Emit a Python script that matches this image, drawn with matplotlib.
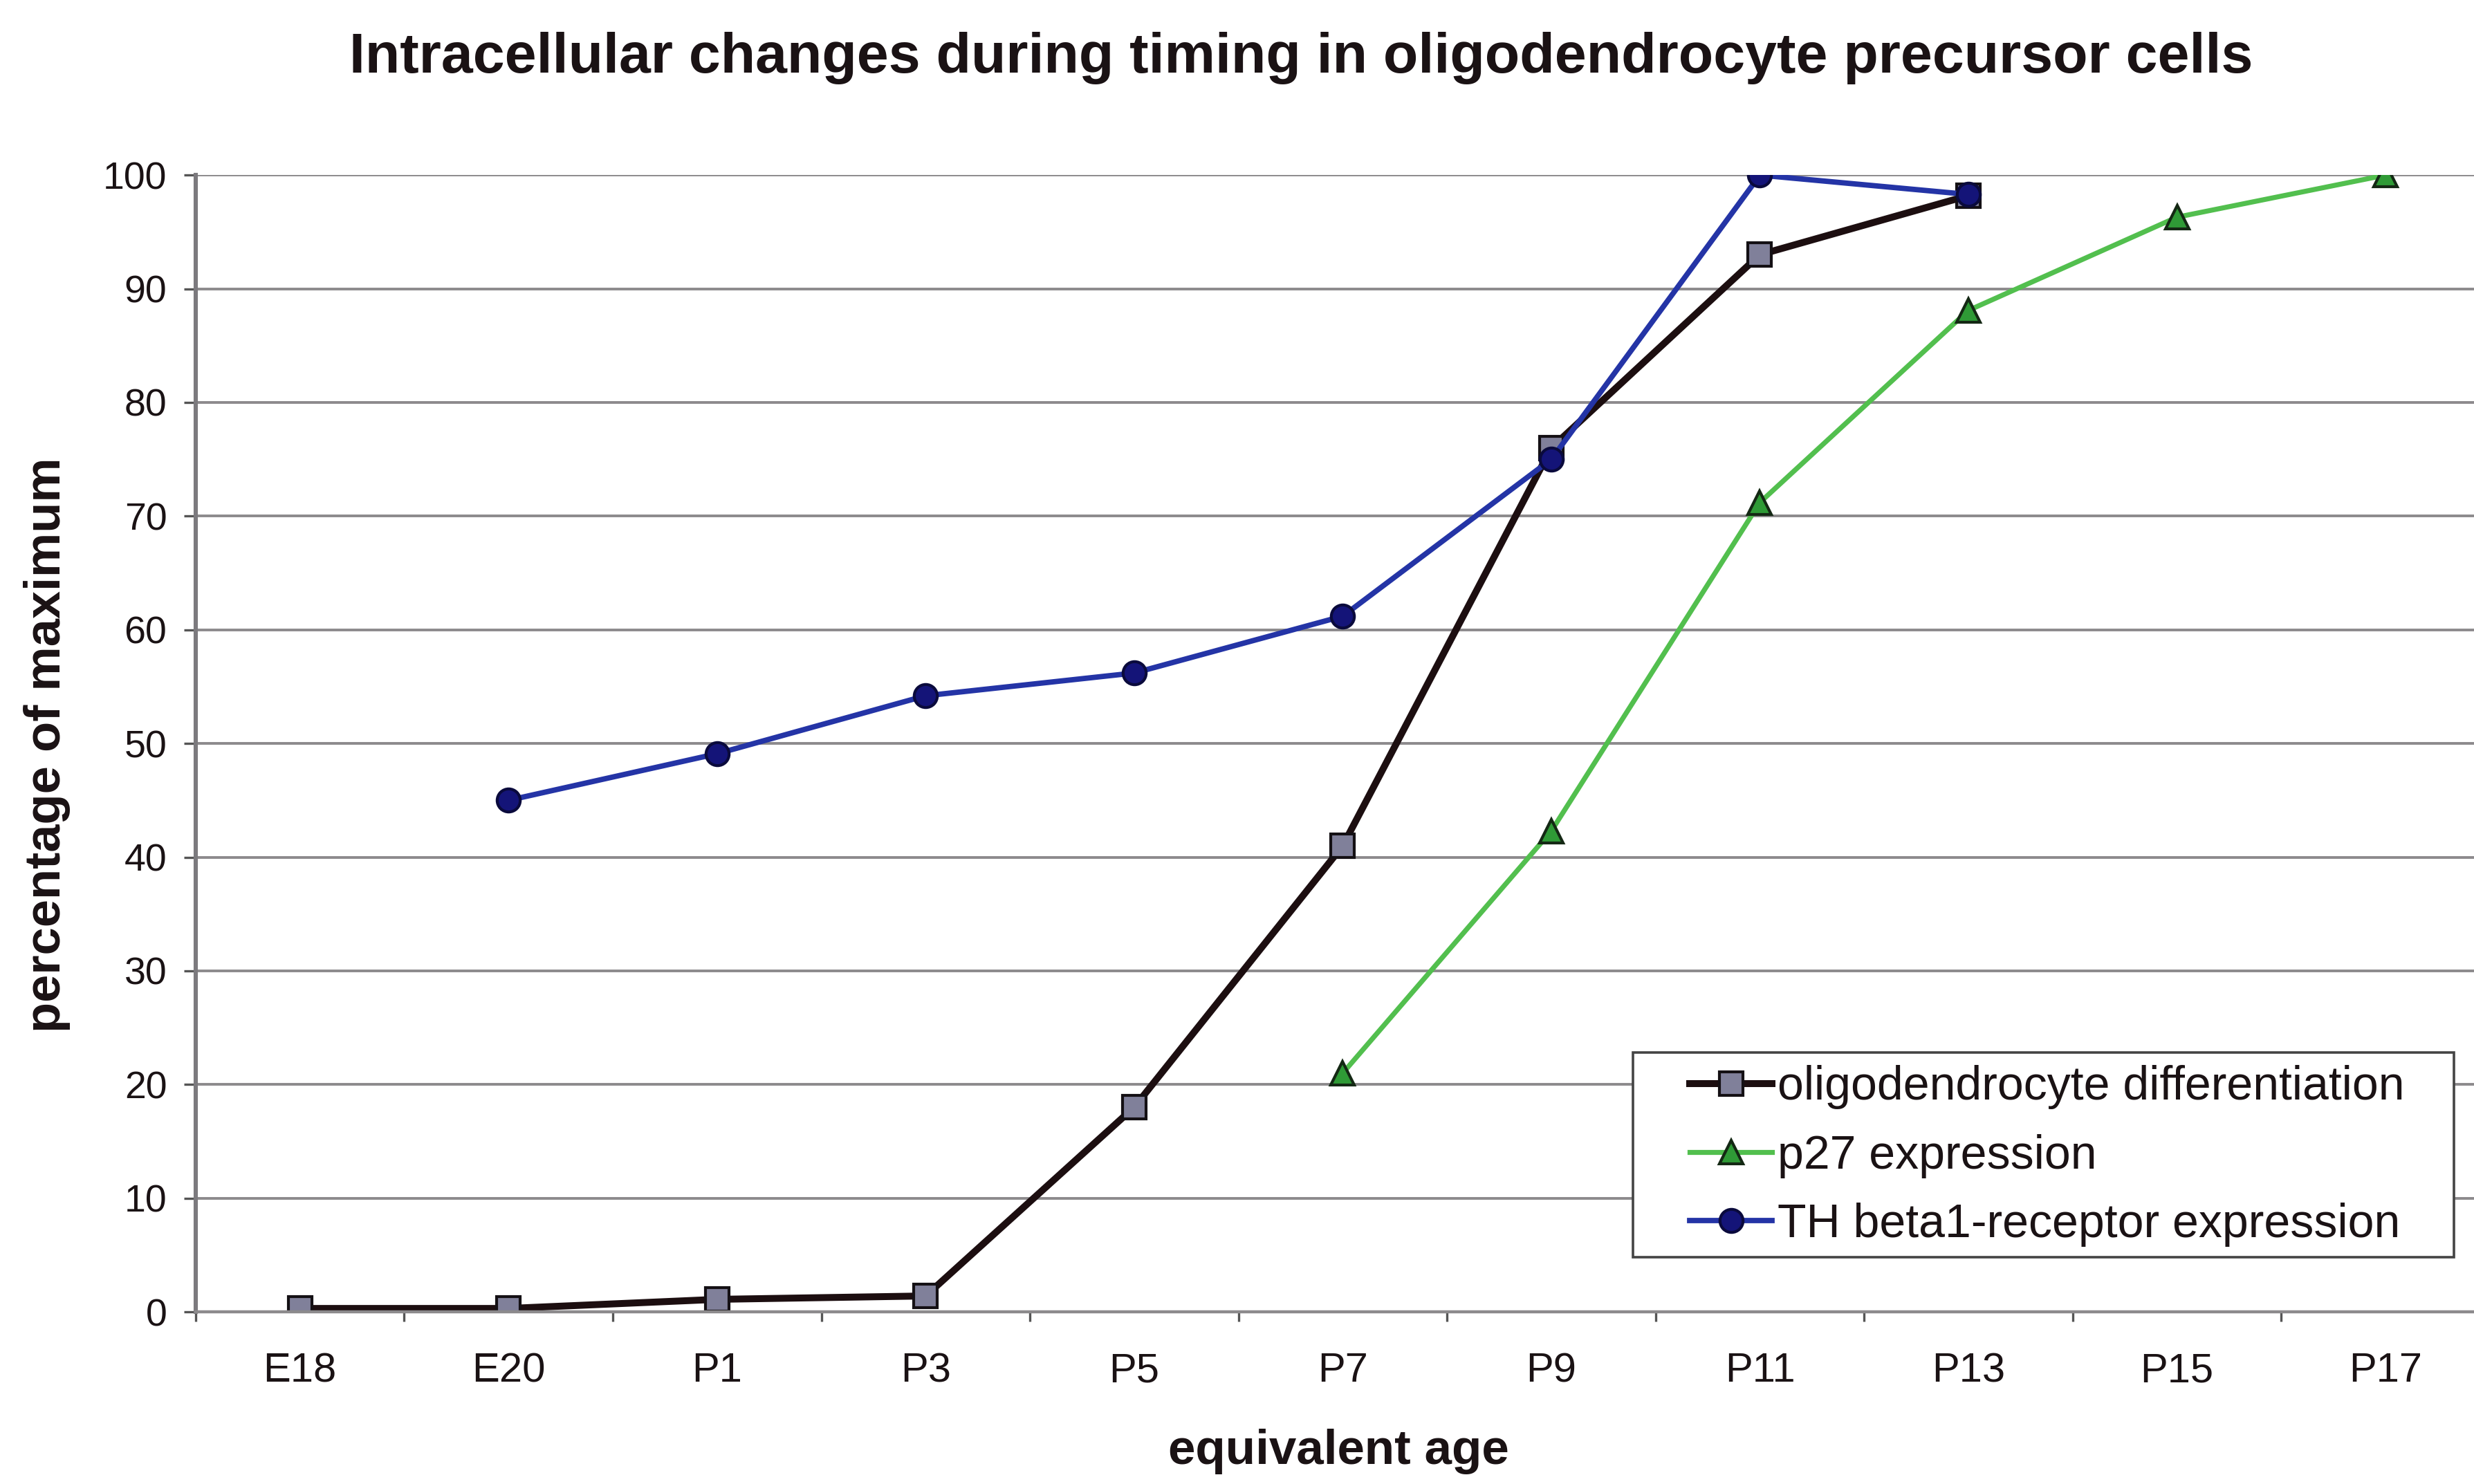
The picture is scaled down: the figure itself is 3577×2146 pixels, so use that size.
import numpy as np
import matplotlib
matplotlib.use("Agg")
import matplotlib.pyplot as plt
from matplotlib.patches import Rectangle

plt.rcParams['font.family'] = ['Liberation Sans', 'DejaVu Sans']

# data
ages = ['E18', 'E20', 'P1', 'P3', 'P5', 'P7', 'P9', 'P11', 'P13', 'P15', 'P17']
oligo_diff = [0.3, 0.3, 1.1, 1.4, 18, 41, 76, 93, 98.2, None, None]
p27 = [None, None, None, None, None, 21, 42.3, 71.2, 88.1, 96.3, 100]
th_beta1 = [None, 45, 49.1, 54.2, 56.2, 61.2, 75, 100, 98.3, None, None]

labels = ['oligodendrocyte differentiation', 'p27 expression',
          'TH beta1-receptor expression']


def to_arr(vals):
    return np.array([np.nan if v is None else v for v in vals], dtype=float)


fig = plt.figure(figsize=(17.885, 10.73), dpi=200)
fig.patch.set_facecolor('white')
ax = fig.add_axes([0.0791, 0.116, 0.9273, 0.766])

x = np.arange(len(ages))
txt = '#1a1214'

ax.yaxis.grid(True, color='#8c8a8c', linewidth=1.4)
ax.set_axisbelow(True)

h1, = ax.plot(x, to_arr(oligo_diff), color='#1c0e10', linewidth=3.6,
              marker='s', markersize=12, markerfacecolor='#80809a',
              markeredgecolor='#141014', markeredgewidth=1.5)
h2, = ax.plot(x, to_arr(p27), color='#52bf4e', linewidth=2.6,
              marker='^', markersize=12, markerfacecolor='#2f9a36',
              markeredgecolor='#142814', markeredgewidth=1.5)
h3, = ax.plot(x, to_arr(th_beta1), color='#2434a6', linewidth=2.8,
              marker='o', markersize=12, markerfacecolor='#141478',
              markeredgecolor='#0a0a3c', markeredgewidth=1.5)

ax.set_xlim(-0.5, 10.5)
ax.set_ylim(0, 100)
ax.set_yticks(np.arange(0, 101, 10))
ax.set_xticks(x)
ax.set_xticklabels(ages)
ax.set_xticks(np.arange(-0.5, 10.6, 1), minor=True)
ax.tick_params(axis='x', which='major', length=0, pad=21, labelsize=21.5,
               labelcolor=txt)
ax.tick_params(axis='x', which='minor', length=5, width=1.2,
               color='#555555', direction='out')
ax.tick_params(axis='y', length=6, width=1.2, color='#555555', pad=9,
               labelsize=20, labelcolor=txt)

for s in ['top', 'right']:
    ax.spines[s].set_visible(False)
ax.spines['left'].set_color('#7c7a7e')
ax.spines['left'].set_linewidth(2.2)
ax.spines['bottom'].set_color('#8c8a8c')
ax.spines['bottom'].set_linewidth(1.6)

fig.text(0.526, 0.961, 'Intracellular changes during timing in oligodendrocyte precursor cells',
         ha='center', va='center', fontsize=29.7, fontweight='bold', color=txt)
fig.text(0.019, 0.498, 'percentage of maximum', rotation=90, ha='center',
         va='center', fontsize=26, fontweight='bold', color=txt)
fig.text(0.541, 0.022, 'equivalent age', ha='center', va='center',
         fontsize=25.5, fontweight='bold', color=txt)

# legend box drawn separately so its padding matches
fig.patches.append(Rectangle((0.660, 0.153), 0.332, 0.138,
                             transform=fig.transFigure, facecolor='white',
                             edgecolor='#444444', linewidth=1.3, zorder=5))
leg = fig.legend([h1, h2, h3], labels, loc='center left',
                 bbox_to_anchor=(0.683, 0.221), frameon=False,
                 fontsize=24.5, handlelength=1.75, handletextpad=0.12,
                 labelspacing=0.52, borderpad=0, borderaxespad=0)
leg.set_zorder(6)
for t in leg.get_texts():
    t.set_color(txt)

fig.savefig('out.png', dpi=200, facecolor='white')
